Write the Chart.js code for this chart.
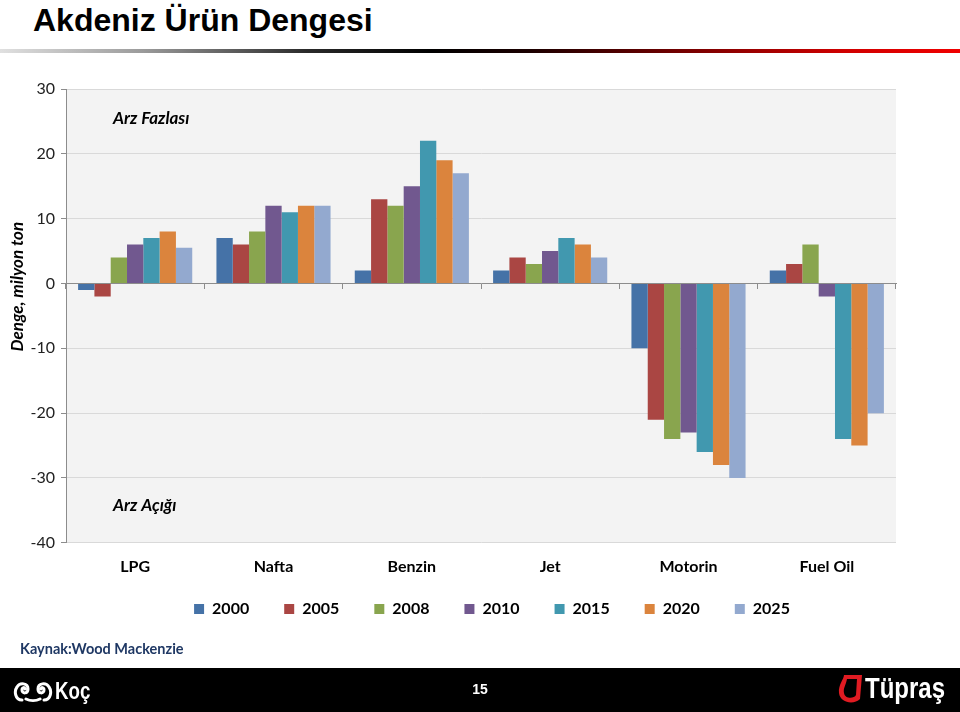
<!DOCTYPE html>
<html lang="tr">
<head>
<meta charset="utf-8">
<title>Akdeniz Ürün Dengesi</title>
<script src="https://cdn.jsdelivr.net/npm/chart.js@4"></script>
<style>
  html, body { margin: 0; padding: 0; background: #fff; }
  body { width: 960px; height: 712px; position: relative; overflow: hidden; font-family: Lato, sans-serif; }
  #title { position: absolute; left: 33px; top: 2px; font: bold 32px "Liberation Sans", Arial, sans-serif; color: #000; white-space: nowrap; }
  #rule { position: absolute; left: 0; top: 49px; width: 960px; height: 4px;
    background: linear-gradient(to right, #e0e0e0 0%, #9a9a9a 15%, #2a2a2a 32%, #000 45%, #1a0000 55%, #7a0000 72%, #d00000 88%, #f00000 100%); }
  #wrap { position: absolute; left: 0; top: 60px; width: 960px; height: 591px; }
  #source { position: absolute; left: 20px; top: 640px; font: bold 14.5px Lato, sans-serif; color: #1f3864; }
  #footer { position: absolute; left: 0; top: 668px; width: 960px; height: 44px; background: #000; color: #fff; }
  #koc { position: absolute; left: 13px; top: 9px; display: flex; align-items: center; }
  #koc span { font: bold 24px "Liberation Sans", sans-serif; margin-left: 2px; display: inline-block; transform: scaleX(0.78); transform-origin: left center; }
  #page { position: absolute; left: 0; width: 960px; top: 13px; text-align: center; font: bold 14px "Liberation Sans", sans-serif; }
  #tupras { position: absolute; left: 836px; top: 3px; display: flex; align-items: center; }
  #tupras span { font: bold 30px "Liberation Sans", sans-serif; margin-left: 1px; display: inline-block; transform: scaleX(0.8); transform-origin: left center; }
</style>
</head>
<body>
<div id="title">Akdeniz Ürün Dengesi</div>
<div id="rule"></div>
<div id="wrap"><canvas id="urunChart" width="960" height="591"></canvas></div>
<div id="source">Kaynak:Wood Mackenzie</div>
<div id="footer">
  <div id="koc">
    <svg width="40" height="24" viewBox="0 0 40 24"><path d="M9 21 C2 21 1 12 4 8 C7 3 15 4 15 10 C15 15 9 15 9 11 C9 8 12 8 12 10 M31 21 C38 21 39 12 36 8 C33 3 25 4 25 10 C25 15 31 15 31 11 C31 8 28 8 28 10 M13 20 C17 22 23 22 27 20" fill="none" stroke="#fff" stroke-width="3" stroke-linecap="round"/></svg>
    <span>Koç</span>
  </div>
  <div id="page">15</div>
  <div id="tupras">
    <svg width="28" height="34" viewBox="0 0 28 34"><path d="M8 4 L26 4 L24 28 C18 34 4 32 3 22 C2 14 8 8 8 4 Z M11 8 C10 14 7 17 8 22 C9 28 18 28 20 24 L21 8 Z" fill="#e01b22" fill-rule="evenodd"/></svg>
    <span>Tüpraş</span>
  </div>
</div>
<script>
const categories = ['LPG', 'Nafta', 'Benzin', 'Jet', 'Motorin', 'Fuel Oil'];
const years = ['2000', '2005', '2008', '2010', '2015', '2020', '2025'];
const yearColors = ['#4572A7', '#AA4643', '#89A54E', '#71588F', '#4198AF', '#DB843D', '#93A9CF'];

// denge, milyon ton (kategori sırasıyla)
const v2000 = [-1, 7, 2, 2, -10, 2];
const v2005 = [-2, 6, 13, 4, -21, 3];
const v2008 = [4, 8, 12, 3, -24, 6];
const v2010 = [6, 12, 15, 5, -23, -2];
const v2015 = [7, 11, 22, 7, -26, -24];
const v2020 = [8, 12, 19, 6, -28, -25];
const v2025 = [5.5, 12, 17, 4, -30, -20];
const seriesValues = [v2000, v2005, v2008, v2010, v2015, v2020, v2025];

const yMin = -40, yMax = 30, yStep = 10;
const yAxisTitle = 'Denge, milyon ton';
const surplusLabel = 'Arz Fazlası';
const deficitLabel = 'Arz Açığı';

const plotBg = {
  id: 'plotBg',
  beforeDraw(chart) {
    const { ctx, chartArea: a } = chart;
    ctx.save();
    ctx.fillStyle = '#f3f3f3';
    ctx.fillRect(a.left, a.top, a.right - a.left, a.bottom - a.top);
    ctx.restore();
  }
};

// lejandı kategori yazılarına yaklaştır, biraz sağa kaydır
const legendNudge = {
  id: 'legendNudge',
  afterLayout(chart) {
    const lg = chart.legend;
    lg.top -= 24; lg.bottom -= 24;
    lg.left += 11; lg.right += 11;
  }
};

// ek yazılar: eksen başlığı, arz fazlası / açığı
const notes = {
  id: 'notes',
  afterDraw(chart) {
    const { ctx, chartArea: a } = chart;
    const y = chart.scales.y;
    ctx.save();
    ctx.fillStyle = '#000';
    ctx.font = 'italic bold 17px Lato, sans-serif';
    ctx.textBaseline = 'middle';
    ctx.textAlign = 'left';
    ctx.fillText(surplusLabel, a.left + 47, y.getPixelForValue(25.5));
    ctx.fillText(deficitLabel, a.left + 47, y.getPixelForValue(-34.3));
    ctx.translate(18, y.getPixelForValue(-0.5));
    ctx.rotate(-Math.PI / 2);
    ctx.textAlign = 'center';
    ctx.fillText(yAxisTitle, 0, 0);
    ctx.restore();
  }
};

const ctx = document.getElementById('urunChart').getContext('2d');
const urunChart = new Chart(ctx, {
  type: 'bar',
  data: {
    labels: categories,
    datasets: years.map((yr, i) => ({
      label: yr,
      data: seriesValues[i],
      backgroundColor: yearColors[i],
      borderWidth: 0,
      categoryPercentage: 0.825,
      barPercentage: 1
    }))
  },
  options: {
    responsive: false,
    animation: false,
    layout: { padding: { left: 0, right: 64, top: 29, bottom: 0 } },
    plugins: {
      legend: {
        position: 'bottom',
        fullSize: false,
        labels: { boxWidth: 10, boxHeight: 10, padding: 35, color: '#000', font: { family: 'Lato', size: 16, weight: 'bold' } }
      },
      tooltip: { enabled: false }
    },
    scales: {
      x: {
        grid: { display: false, drawTicks: false },
        border: { display: false },
        ticks: { padding: 14, color: '#000', font: { family: 'Lato', size: 16, weight: 'bold' } }
      },
      x2: {
        type: 'category',
        position: { y: 0 },
        offset: true,
        grid: { offset: true, drawOnChartArea: false, tickLength: 5, color: '#8c8c8c' },
        border: { display: true, color: '#8c8c8c' },
        ticks: { display: false }
      },
      y: {
        min: yMin, max: yMax,
        ticks: { stepSize: yStep, padding: 6, color: '#222', font: { family: 'Lato', size: 16 } },
        grid: { color: '#d9d9d9', tickLength: 5, tickColor: '#8c8c8c' },
        border: { color: '#8c8c8c' },
        afterFit: s => { s.width = 66; }
      }
    }
  },
  plugins: [plotBg, legendNudge, notes]
});
</script>
</body>
</html>
